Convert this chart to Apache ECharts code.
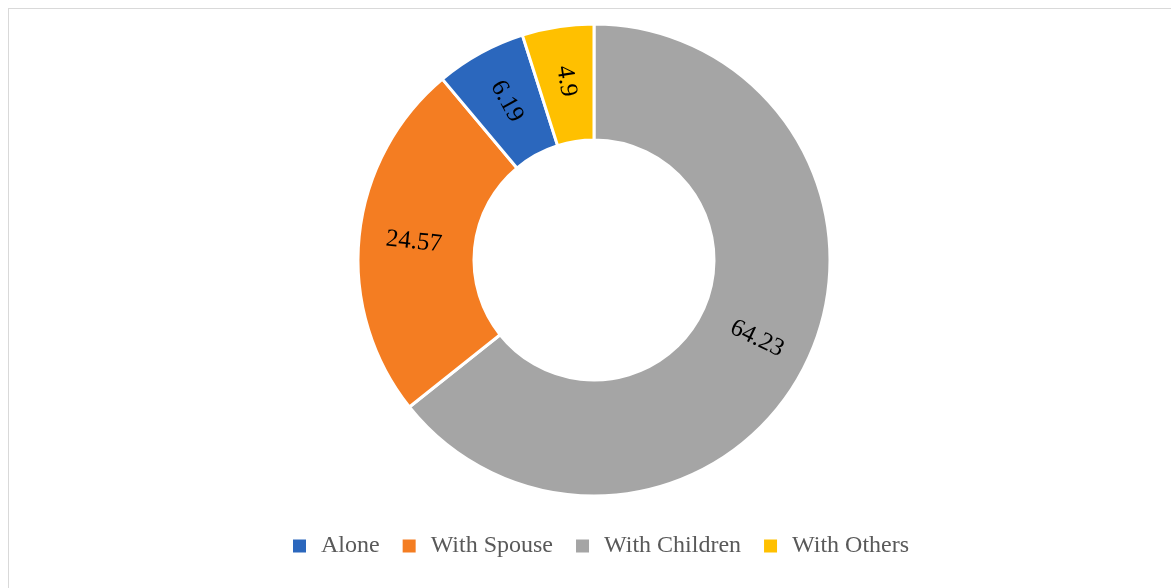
<!DOCTYPE html>
<html>
<head>
<meta charset="utf-8">
<script src="https://cdn.jsdelivr.net/npm/echarts@6/dist/echarts.min.js"></script>
<style>
  html, body { margin: 0; padding: 0; background: #fff; }
  #frame { position: absolute; left: 8px; top: 8px; width: 1200px; height: 620px;
           border-top: 1px solid #d9d9d9; border-left: 1px solid #d9d9d9; }
  #chart { position: absolute; left: 0; top: 0; width: 1171px; height: 588px; }
</style>
</head>
<body>
<div id="frame"></div>
<div id="chart"></div>
<script>
// living arrangement shares (%), drawn clockwise from the top
const categories = ['With Children', 'With Spouse', 'Alone', 'With Others'];
const values = [64.23, 24.57, 6.19, 4.9];
const colors = ['#a5a5a5', '#f47d22', '#2b67bd', '#ffc000'];
const legendOrder = ['Alone', 'With Spouse', 'With Children', 'With Others'];

const chart = echarts.init(document.getElementById('chart'));

const option = {
    backgroundColor: 'transparent',
    animation: false,
    legend: {
        data: legendOrder,
        top: 529,
        left: 286,
        icon: 'rect',
        itemWidth: 15,
        itemHeight: 15,
        itemGap: 21,
        textStyle: {
            fontFamily: 'Liberation Serif',
            fontSize: 24,
            color: '#595959',
            padding: [0, 0, 0, 9]
        }
    },
    series: [
        {
            type: 'pie',
            center: [594, 260],
            radius: [120, 236],
            startAngle: 90,
            clockwise: true,
            data: categories.map((c, i) => ({
                name: c,
                value: values[i],
                itemStyle: { color: colors[i] }
            })),
            itemStyle: { borderColor: '#fff', borderWidth: 3 },
            label: {
                show: true,
                position: 'inside',
                rotate: 'radial',
                formatter: p => String(p.value),
                fontFamily: 'Liberation Serif',
                fontSize: 25,
                color: '#000'
            },
            labelLine: { show: false },
            emphasis: { disabled: true }
        }
    ]
};

chart.setOption(option);
</script>
</body>
</html>
